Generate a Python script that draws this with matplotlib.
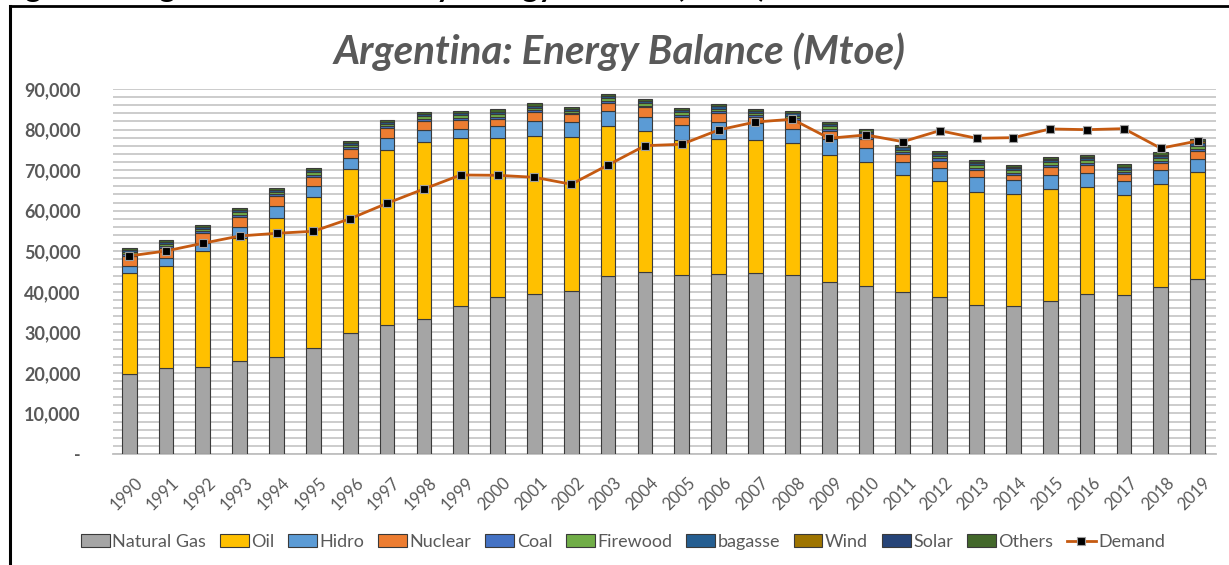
import matplotlib
matplotlib.use("Agg")
import matplotlib.pyplot as plt
from matplotlib.lines import Line2D
from matplotlib.transforms import ScaledTranslation
import numpy as np

plt.rcParams['font.family'] = ['Lato', 'DejaVu Sans']

years = [str(y) for y in range(1990, 2020)]

natural_gas = [19650, 21130, 21530, 22930, 23840, 26220, 29760, 31810, 33220, 36500,
               38640, 39460, 40120, 43890, 44880, 44070, 44390, 44560, 44140, 42490,
               41430, 40020, 38790, 36740, 36500, 37800, 39530, 39130, 41260, 43160]
oil = [24900, 25300, 28530, 30410, 34280, 37080, 40450, 43160, 43650, 41350,
       39210, 38880, 37980, 37070, 34850, 33360, 33220, 32870, 32630, 31240,
       30500, 28780, 28530, 27800, 27540, 27470, 26390, 24740, 25250, 26310]
hidro = [1870, 1970, 1900, 2710, 3110, 2870, 2710, 2880, 2950, 2300,
         2960, 3850, 3850, 3550, 3300, 3700, 4190, 4120, 3300, 3880,
         3610, 3280, 3130, 3690, 3530, 3460, 3300, 3450, 3520, 3200]
nuclear = [2400, 2330, 2460, 2470, 2470, 2210, 2220, 2470, 2380, 2210,
           1800, 2070, 1820, 2120, 2470, 2050, 2220, 1480, 2290, 2120,
           2140, 1900, 1880, 1800, 1230, 2120, 2050, 1650, 1660, 2130]
coal = [480, 520, 500, 520, 480, 500, 480, 460, 450, 520,
        560, 480, 380, 470, 420, 480, 520, 500, 520, 500,
        560, 480, 540, 540, 520, 500, 480, 480, 500, 480]
firewood = [520, 540, 560, 560, 540, 560, 560, 560, 580, 620,
            660, 600, 520, 580, 540, 560, 600, 560, 580, 600,
            640, 600, 640, 640, 640, 640, 640, 640, 680, 700]
bagasse = [450, 480, 480, 480, 460, 480, 480, 480, 490, 560,
           600, 540, 450, 520, 480, 520, 560, 500, 540, 540,
           580, 540, 580, 580, 580, 580, 580, 600, 620, 620]
wind = [0, 0, 0, 0, 0, 0, 0, 0, 0, 0,
        0, 0, 0, 0, 0, 0, 0, 0, 0, 0,
        10, 20, 60, 80, 90, 90, 90, 110, 230, 480]
solar = [0, 0, 0, 0, 0, 0, 0, 0, 0, 0,
         0, 0, 0, 0, 0, 0, 0, 0, 0, 0,
         0, 10, 20, 30, 40, 40, 50, 60, 110, 160]
others = [450, 500, 510, 510, 490, 530, 530, 540, 540, 600,
          650, 600, 520, 580, 530, 580, 610, 560, 580, 580,
          600, 570, 550, 530, 520, 540, 550, 580, 570, 510]
demand = [48830, 50060, 51960, 53760, 54420, 54920, 58030, 61820, 65350, 68800,
          68720, 68230, 66510, 71270, 76030, 76370, 79900, 81870, 82540, 77850,
          78670, 77010, 79730, 77850, 78000, 80150, 79970, 80220, 75390, 77190]

series = [("Natural Gas", natural_gas, "#A5A5A5"),
          ("Oil", oil, "#FFC000"),
          ("Hidro", hidro, "#5B9BD5"),
          ("Nuclear", nuclear, "#ED7D31"),
          ("Coal", coal, "#4472C4"),
          ("Firewood", firewood, "#70AD47"),
          ("bagasse", bagasse, "#255E91"),
          ("Wind", wind, "#9E7400"),
          ("Solar", solar, "#264478"),
          ("Others", others, "#43682B")]

W, H = 1229, 565
fig = plt.figure(figsize=(W / 100, H / 100), dpi=100)
ax = fig.add_axes([112.6 / W, (H - 454) / H, (1216 - 112.6) / W, (454 - 89) / H])

x = np.arange(len(years))
bottom = np.zeros(len(years))
for name, vals, col in series:
    ax.bar(x, vals, 0.4, bottom=bottom, color=col, edgecolor="#3A3A3A",
           linewidth=0.8, label=name, zorder=3)
    bottom += np.array(vals)

ax.plot(x, demand, color="#C55A11", linewidth=2.0, marker="s", markersize=5.5,
        markerfacecolor="black", markeredgecolor="#A0A0A0", markeredgewidth=0.8,
        label="Demand", zorder=4)

ax.set_xlim(-0.45, len(years) - 0.5)
ax.set_ylim(0, 90000)
ax.set_yticks(np.arange(0, 90001, 10000))
ax.set_yticklabels(["-"] + [f"{v:,}" for v in range(10000, 90001, 10000)],
                   fontsize=13, fontweight="bold", color="#595959")
ax.set_yticks(np.arange(0, 90001, 2000), minor=True)
ax.grid(axis="y", which="both", color="#C8C8C8", linewidth=1.3, zorder=0)
ax.set_xticks(x)
ax.set_xticklabels(years, rotation=45, ha="right", rotation_mode="anchor",
                   fontsize=12, color="#595959")
ax.tick_params(axis="both", which="both", length=0)
ax.tick_params(axis="x", pad=15)
ax.tick_params(axis="y", pad=23)
shift = ScaledTranslation(5 / 100, 0, fig.dpi_scale_trans)
for lab in ax.get_xticklabels():
    lab.set_transform(lab.get_transform() + shift)
for s in ["top", "right", "left"]:
    ax.spines[s].set_visible(False)
ax.spines["bottom"].set_color("#BFBFBF")
ax.spines["bottom"].set_linewidth(1.3)

handles, labels = ax.get_legend_handles_labels()
order = list(range(1, len(handles))) + [0]
handles = [handles[i] for i in order]
labels = [labels[i] for i in order]
fig.legend(handles, labels, loc="center", bbox_to_anchor=(623 / W, (H - 542) / H),
           ncol=len(labels), frameon=False, fontsize=13, handlelength=1.6,
           handleheight=0.7, handletextpad=0.15, columnspacing=0.75,
           labelcolor="#595959")

fig.text(620 / W, (H - 64) / H, "Argentina: Energy Balance (Mtoe)",
         ha="center", va="baseline", fontsize=29, fontweight="bold",
         fontstyle="italic", color="#595959")

# caption cut off at the top edge of the original screenshot
fig.text(0.0, (H + 3) / H, "Figure 1: Argentina Total Primary Energy Balance (Mtoe)",
         ha="left", va="baseline", fontsize=22, fontweight="bold", color="black")

# frame around the chart (only top and left edges show)
fig.add_artist(Line2D([10 / W, 1.0], [(H - 5.5) / H, (H - 5.5) / H], color="black",
                      linewidth=2.0, transform=fig.transFigure))
fig.add_artist(Line2D([10 / W, 10 / W], [0.0, (H - 5.5) / H], color="black",
                      linewidth=2.2, transform=fig.transFigure))

fig.savefig("out.png", dpi=100)
